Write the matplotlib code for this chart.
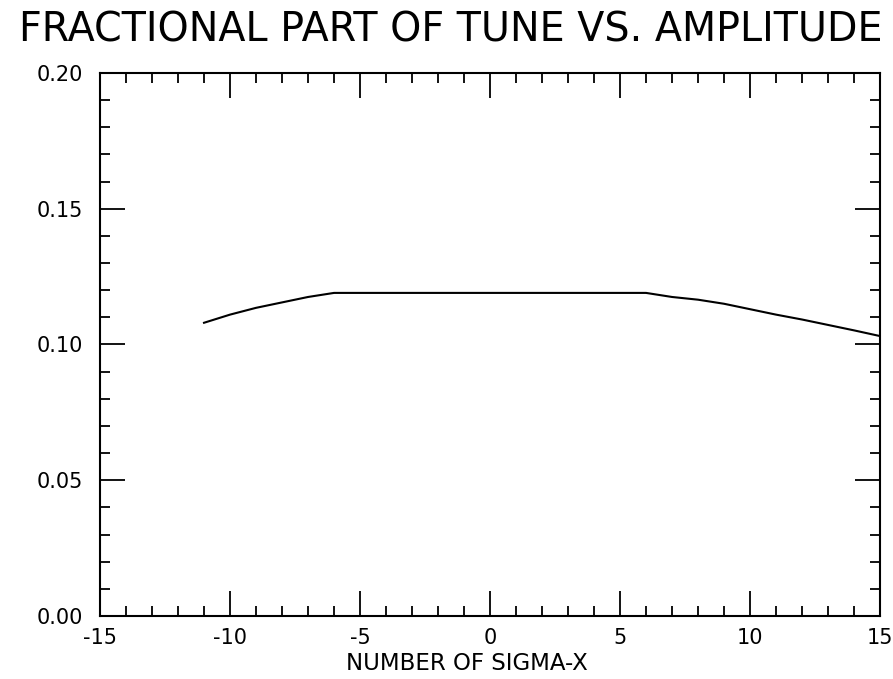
"""
Fractional part of tune vs. amplitude
"""
import matplotlib
matplotlib.use("Agg")
import matplotlib.pyplot as plt
from matplotlib.ticker import MultipleLocator

# amplitude in units of sigma-x, and the fractional tune
sigma_x = [-11, -10, -9, -8, -7, -6, -5, -4, -3, -2, -1, 0, 1, 2, 3, 4, 5,
           6, 7, 8, 9, 10, 11, 12, 13, 14, 15]
tune_frac = [0.1080, 0.1110, 0.1135, 0.1155, 0.1175, 0.1190, 0.1190, 0.1190,
             0.1190, 0.1190, 0.1190, 0.1190, 0.1190, 0.1190, 0.1190, 0.1190,
             0.1190, 0.1190, 0.1175, 0.1165, 0.1150, 0.1130, 0.1110, 0.1092,
             0.1072, 0.1052, 0.1031]

xticks = [-15, -10, -5, 0, 5, 10, 15]
yticks = [0.00, 0.05, 0.10, 0.15, 0.20]

plt.rcParams['font.family'] = ['DejaVu Sans']

fig = plt.figure(figsize=(8.93, 6.79), dpi=100)
ax = fig.add_axes([0.112, 0.0928, 0.8735, 0.7997])

ax.plot(sigma_x, tune_frac, color='black', linewidth=1.5)

ax.set_xlim(-15, 15)
ax.set_ylim(0, 0.20)
ax.set_xticks(xticks)
ax.set_xticklabels([str(t) for t in xticks])
ax.set_yticks(yticks)
ax.set_yticklabels(['%.2f' % t for t in yticks])
ax.xaxis.set_minor_locator(MultipleLocator(1))
ax.yaxis.set_minor_locator(MultipleLocator(0.01))

ax.tick_params(which='both', direction='in', top=True, right=True,
               width=1.3, labelsize=15, colors='black')
ax.tick_params(which='major', length=18)
ax.tick_params(which='minor', length=7)
ax.tick_params(axis='x', which='major', pad=9)
ax.tick_params(axis='y', which='major', pad=12)
for sp in ax.spines.values():
    sp.set_linewidth(1.5)

fig.text(467 / 893, 1 - 664 / 679, 'NUMBER OF SIGMA-X',
         ha='center', va='center', fontsize=16.5)
fig.text(451 / 893, 1 - 31 / 679, 'FRACTIONAL PART OF TUNE VS. AMPLITUDE',
         ha='center', va='center', fontsize=28.5)

fig.savefig('out.png', dpi=100)
